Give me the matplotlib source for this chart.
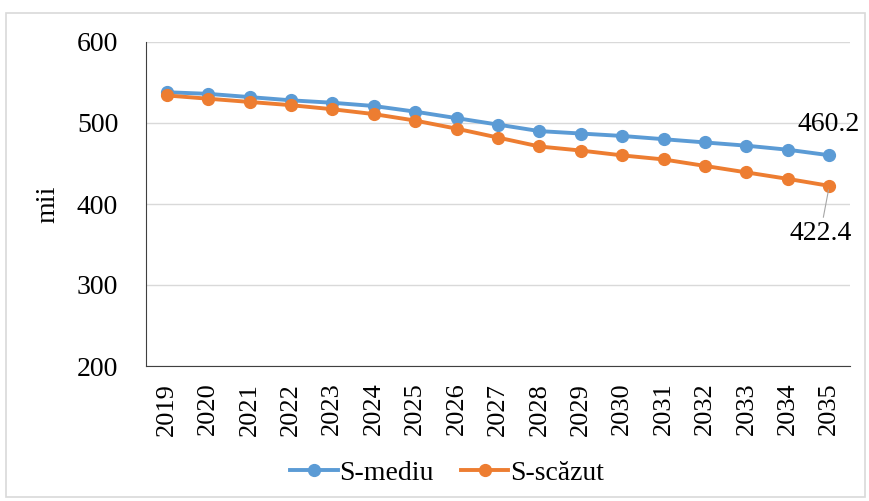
import matplotlib
matplotlib.use("Agg")
import matplotlib.pyplot as plt
from matplotlib.patches import Rectangle

years = list(range(2019, 2036))
s_mediu = [538, 536, 532, 528, 525, 521, 514, 506, 498, 490, 487, 484, 480, 476, 472, 467, 460.2]
s_scazut = [534, 530, 526, 522, 517, 511, 503, 493, 482, 471, 466, 460, 455, 447, 439, 431, 422.4]

BLUE = "#5B9BD5"
ORANGE = "#ED7D31"

plt.rcParams["font.family"] = ["Liberation Serif", "DejaVu Serif"]

fig = plt.figure(figsize=(8.7, 5.01), dpi=100)
ax = fig.add_axes([146 / 870, 1 - 366 / 501, (850 - 146) / 870, (366 - 42) / 501])

x = list(range(len(years)))
ax.plot(x, s_mediu, color=BLUE, lw=2.8, marker="o", ms=8.5, label="S-mediu")
ax.plot(x, s_scazut, color=ORANGE, lw=2.8, marker="o", ms=8.5, label="S-scăzut")

ax.set_ylim(200, 600)
ax.set_xlim(-0.5, len(years) - 0.5)
ax.set_yticks([200, 300, 400, 500, 600])
ax.tick_params(axis="y", labelsize=20, length=0, pad=20)
ax.set_xticks(x)
ax.set_xticklabels([str(y) for y in years], rotation=90, fontsize=19)
ax.tick_params(axis="x", length=0, pad=12)
ax.grid(axis="y", color="#d9d9d9", lw=1)
ax.set_axisbelow(True)
for side in ["top", "right"]:
    ax.spines[side].set_visible(False)
ax.spines["left"].set_color("#404040")
ax.spines["bottom"].set_color("#404040")
ax.set_ylabel("mii", fontsize=20, labelpad=12)

ax.annotate(f"{s_mediu[-1]:.1f}", xy=(x[-1], s_mediu[-1]), xytext=(x[-1] - 0.02, 498),
            fontsize=20, ha="center", va="center")
ax.annotate(f"{s_scazut[-1]:.1f}", xy=(x[-1], s_scazut[-1]), xytext=(x[-1] - 0.22, 363),
            fontsize=20, ha="center", va="center",
            arrowprops=dict(arrowstyle="-", color="#a6a6a6", lw=0.8, shrinkA=1, shrinkB=3))

fig.legend(loc="center", bbox_to_anchor=(447 / 870, 1 - 473 / 501), ncol=2, frameon=False,
           fontsize=20, handlelength=1.7, columnspacing=1.0, handletextpad=0.05,
           borderpad=0)

fig.add_artist(Rectangle((6 / 870, 4 / 501), 859 / 870, 484 / 501, transform=fig.transFigure,
                         fill=False, edgecolor="#d9d9d9", lw=1.2))

fig.savefig("out.png", dpi=100)
